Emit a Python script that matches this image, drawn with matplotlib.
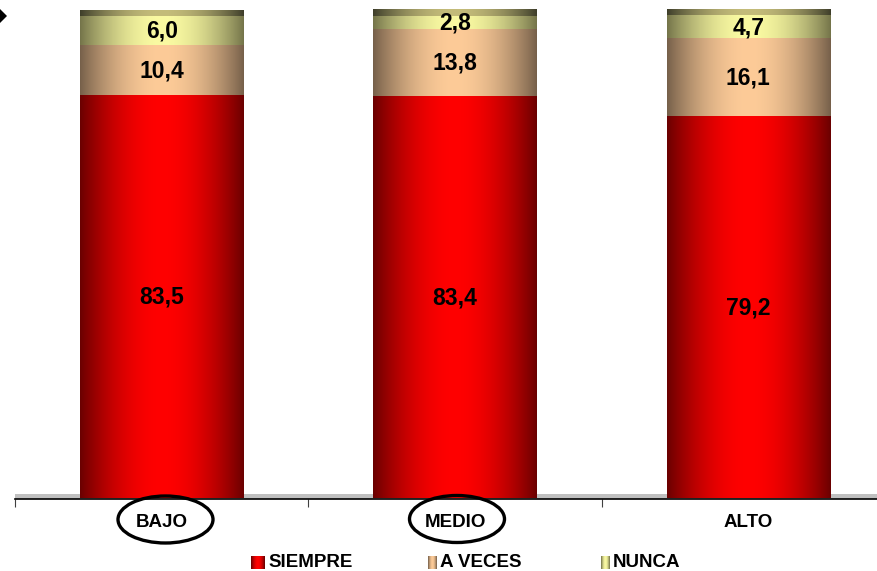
import numpy as np
import matplotlib.pyplot as plt
from matplotlib.colors import to_rgb
from matplotlib.patches import Ellipse, Polygon
import matplotlib.transforms as mtransforms

categories = ["BAJO", "MEDIO", "ALTO"]
series = ["SIEMPRE", "A VECES", "NUNCA"]
siempre = [83.5, 83.4, 79.2]
a_veces = [10.4, 13.8, 16.1]
nunca = [6.0, 2.8, 4.7]

# edge colour, centre colour for the cylinder shading
shades = {
    "SIEMPRE": ("#6a0000", "#ff0000"),
    "A VECES": ("#76604a", "#fdcb98"),
    "NUNCA": ("#74744a", "#fafaa2"),
}
cap_shade = ("#3e3e2a", "#c4bc7a")
CAP = 1.3

plt.rcParams['font.family'] = ['Liberation Sans', 'DejaVu Sans']
plt.rcParams['font.weight'] = 'bold'

W, H = 877, 571
fig = plt.figure(figsize=(W / 100, H / 100), dpi=100)
ax = fig.add_axes([15 / W, (H - 498.5) / H, 880 / W, 498.5 / H])


def gradient(edge, centre, n=200):
    t = np.linspace(0, 1, n)
    v = np.sin(np.pi * t) ** 0.9
    e = np.array(to_rgb(edge))
    c = np.array(to_rgb(centre))
    return (e[None, :] * (1 - v[:, None]) + c[None, :] * v[:, None])[None, :, :]


def shade_bars(bars, edge, centre, z):
    # each image runs from the base of the stack up to the segment top;
    # lower segments sit above, so there are no seams between segments
    img = gradient(edge, centre)
    for p in bars:
        x0, y0 = p.get_x(), p.get_y()
        w, h = p.get_width(), p.get_height()
        ax.imshow(img, extent=[x0, x0 + w, 0, y0 + h], aspect='auto',
                  interpolation='bilinear', zorder=z)


x = np.arange(len(categories))
width = 0.556
bottom = np.zeros(len(categories))
for k, (name, vals) in enumerate(zip(series, [siempre, a_veces, nunca])):
    bars = ax.bar(x, vals, width, bottom=bottom, facecolor='none',
                  linewidth=0, zorder=1)
    shade_bars(bars, *shades[name], z=3 - 0.1 * k)
    for xi, b, v in zip(x, bottom, vals):
        ax.text(xi, b + v / 2, f"{v:.1f}".replace(".", ","), ha='center',
                va='center', fontsize=16.5, fontweight='bold', color='black', zorder=5)
    bottom = bottom + np.array(vals)

# top face of the cylinders
caps = ax.bar(x, [CAP] * len(x), width, bottom=bottom, facecolor='none',
              linewidth=0, zorder=1)
shade_bars(caps, *cap_shade, z=2)

# floor
ax.axhspan(0, 0.95, color='#c0c0c0', zorder=0, linewidth=0)

ax.set_xlim(-0.5, 2.5)
ax.set_ylim(0, 498.5 / 4.82)
for s in ['top', 'right', 'left']:
    ax.spines[s].set_visible(False)
ax.spines['bottom'].set_linewidth(1.2)
ax.spines['bottom'].set_zorder(6)
ax.set_yticks([])
ax.set_xticks([-0.5, 0.5, 1.5, 2.5])
ax.set_xticklabels([])
ax.tick_params(axis='x', direction='out', length=6, width=0.8, color='#404040')

trans = mtransforms.blended_transform_factory(ax.transData, fig.transFigure)
for xi, c in zip(x, categories):
    ax.text(xi, 1 - 522.5 / H, c, transform=trans, ha='center', va='center',
            fontsize=13.5, fontweight='bold', clip_on=False)

# hand-drawn ellipses around BAJO and MEDIO
for cx, cy in [(165.5, 519.5), (457, 519)]:
    fig.patches.append(Ellipse((cx / W, 1 - cy / H), 95 / W, 47 / H,
                               transform=fig.transFigure, fill=False,
                               edgecolor='black', linewidth=2.4))

# small diamond at top left
fig.patches.append(Polygon([(-7 / W, 1 - 16 / H), (0, 1 - 9 / H), (7 / W, 1 - 16 / H),
                            (0, 1 - 23 / H)], closed=True, transform=fig.transFigure,
                           facecolor='black', edgecolor='none'))

# legend
legend_pos = [(251, 13, 268), (428, 9, 440), (601, 9, 613)]
for name, (mx, mw, tx) in zip(series, legend_pos):
    lax = fig.add_axes([mx / W, 1 - 569 / H, mw / W, 13 / H])
    lax.imshow(gradient(*shades[name], n=20), aspect='auto', interpolation='bilinear')
    lax.axis('off')
    fig.text(tx / W, 1 - 562.5 / H, name, ha='left', va='center', fontsize=13.5,
             fontweight='bold')

fig.savefig("out.png", dpi=100)
